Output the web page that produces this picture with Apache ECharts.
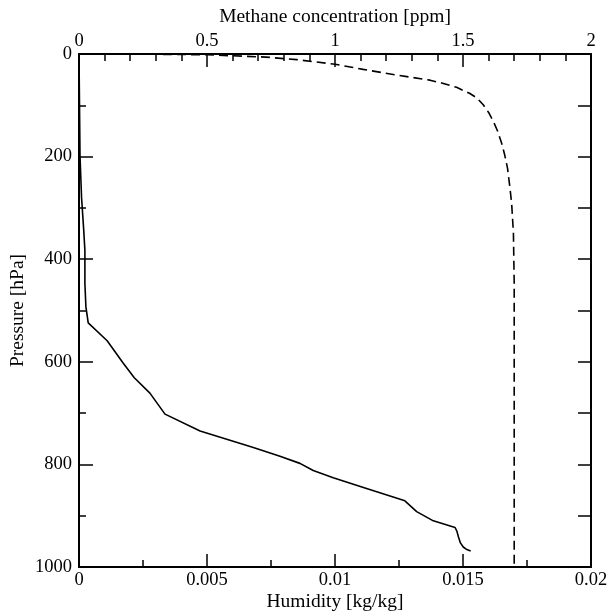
<!DOCTYPE html>
<html>
<head>
<meta charset="utf-8">
<script src="https://cdn.jsdelivr.net/npm/echarts@6/dist/echarts.min.js"></script>
<style>html,body{margin:0;padding:0;background:#fff}#c{width:611px;height:612px}</style>
</head>
<body>
<div id="c"></div>
<script>
// Humidity profile: [humidity kg/kg, pressure hPa]
const humidityValues = [0, 0.00002, 0.00004, 0.0001, 0.00018, 0.00023, 0.00023, 0.00027, 0.00036, 0.0011, 0.00173, 0.00216, 0.00277, 0.00336, 0.00473, 0.00681, 0.00785, 0.00863, 0.00915, 0.00993, 0.01111, 0.01273, 0.01319, 0.01384, 0.01469, 0.01476, 0.01482, 0.0149, 0.01501, 0.01515, 0.0153];
const humidityPressure = [0, 100, 200, 280, 340, 382, 447, 493, 524, 559, 603, 631, 661, 702, 735, 767, 784, 798, 812, 826, 845, 871, 892, 910, 923, 930, 941, 953, 961, 966, 969];
// Methane profile: [methane ppm, pressure hPa]
const methaneValues = [0, 0.3, 0.5, 0.73, 0.85, 1.0, 1.11, 1.24, 1.371, 1.42, 1.475, 1.527, 1.555, 1.579, 1.6, 1.619, 1.635, 1.651, 1.663, 1.674, 1.682, 1.69, 1.697, 1.70, 1.70];
const methanePressure = [0, 0.5, 1.5, 6, 11, 20, 30, 41, 51, 57, 65, 77, 86, 99, 114, 132, 150, 174, 197, 223, 255, 291, 350, 447, 1000];

const font = 'Liberation Serif';
const chart = echarts.init(document.getElementById('c'), null, {renderer: 'canvas'});
const axisLine = {show: true, onZero: false, lineStyle: {color: '#000', width: 2}};
const tickStyle = {color: '#000', width: 1.5};
const labelStyle = {color: '#000', fontFamily: font, fontSize: 18.5};
const nameStyle = {color: '#000', fontFamily: font, fontSize: 19.5};

chart.setOption({
  animation: false,
  backgroundColor: '#fff',
  grid: {left: 79, right: 20, top: 54, bottom: 45, containLabel: false, outerBoundsMode: 'none'},
  xAxis: [
    {
      type: 'value', position: 'bottom', min: 0, max: 0.02, interval: 0.005,
      name: 'Humidity [kg/kg]', nameLocation: 'middle', nameGap: 25, nameMoveOverlap: false, nameTextStyle: nameStyle,
      axisLine: axisLine,
      axisTick: {show: true, inside: true, length: 13, lineStyle: tickStyle},
      minorTick: {show: true, splitNumber: 2, length: 7, lineStyle: tickStyle},
      axisLabel: Object.assign({margin: 4, formatter: v => String(+v.toFixed(4))}, labelStyle),
      splitLine: {show: false}
    },
    {
      type: 'value', position: 'top', min: 0, max: 2, interval: 0.5,
      name: 'Methane concentration [ppm]', nameLocation: 'middle', nameGap: 27, nameMoveOverlap: false, nameTextStyle: nameStyle,
      axisLine: axisLine,
      axisTick: {show: true, inside: true, length: 13, lineStyle: tickStyle},
      minorTick: {show: true, splitNumber: 5, length: 7, lineStyle: tickStyle},
      axisLabel: Object.assign({margin: 3, formatter: v => String(+v.toFixed(2))}, labelStyle),
      splitLine: {show: false}
    }
  ],
  yAxis: [
    {
      type: 'value', position: 'left', inverse: true, min: 0, max: 1000, interval: 200,
      name: 'Pressure [hPa]', nameLocation: 'middle', nameGap: 51, nameRotate: 90, nameMoveOverlap: false, nameTextStyle: nameStyle,
      axisLine: axisLine,
      axisTick: {show: true, inside: true, length: 14, lineStyle: tickStyle},
      minorTick: {show: true, splitNumber: 2, length: 7, lineStyle: tickStyle},
      axisLabel: Object.assign({margin: 7, formatter: v => String(v)}, labelStyle),
      splitLine: {show: false}
    },
    {
      type: 'value', position: 'right', inverse: true, min: 0, max: 1000, interval: 100,
      axisLine: axisLine,
      axisTick: {show: true, inside: true, length: 13, lineStyle: tickStyle},
      axisLabel: {show: false},
      splitLine: {show: false}
    }
  ],
  series: [
    {
      type: 'line', xAxisIndex: 0, yAxisIndex: 0, showSymbol: false, symbol: 'none',
      lineStyle: {color: '#000', width: 1.6},
      data: humidityValues.map((h, i) => [h, humidityPressure[i]])
    },
    {
      type: 'line', xAxisIndex: 1, yAxisIndex: 0, showSymbol: false, symbol: 'none',
      lineStyle: {color: '#000', width: 1.6, type: [9, 5]},
      data: methaneValues.map((m, i) => [m, methanePressure[i]])
    }
  ]
});
</script>
</body>
</html>
